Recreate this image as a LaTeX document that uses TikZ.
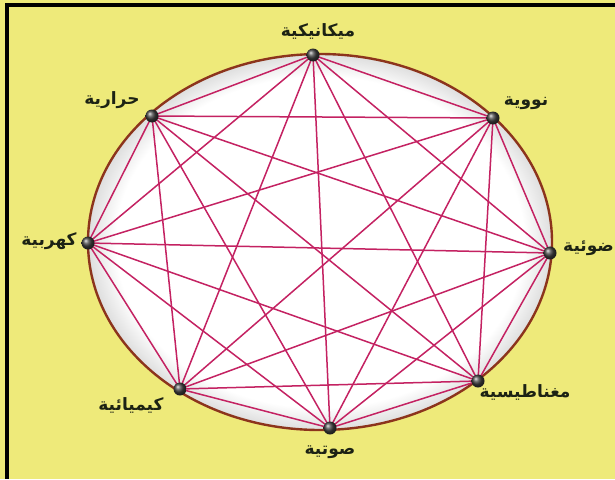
\documentclass[tikz,border=0pt]{standalone}
\usepackage{fontspec}
\newfontfamily\arabicfont[Script=Arabic]{DejaVu Sans}
\TeXXeTstate=1
\usetikzlibrary{shapes.geometric}
\definecolor{bgyellow}{RGB}{238,234,122}
\definecolor{edgecol}{RGB}{196,34,98}
\definecolor{rimcol}{RGB}{140,52,28}
\definecolor{labcol}{RGB}{28,34,20}
\pgfdeclareradialshading{innerglow}{\pgfpoint{0bp}{0bp}}{color(0bp)=(white); color(22bp)=(white); color(25bp)=(black!13); color(50bp)=(black!13)}
\pgfdeclarelayer{bgA}
\pgfdeclarelayer{bgB}
\pgfsetlayers{bgA,bgB,main}
\tikzset{
  ball/.style={circle, inner sep=0pt, minimum size=13pt, shading=ball, ball color=black!75},
  lab/.style={font=\arabicfont\bfseries\fontsize{17}{19}\selectfont, text=labcol, inner sep=0pt},
  link/.style={draw=edgecol, line width=1.5pt},
}
\newcommand{\ar}[1]{\beginR #1\endR}
\begin{document}
\begin{tikzpicture}[x=1pt,y=-1pt]
\useasboundingbox (0,0) rectangle (615,479);
\begin{pgfonlayer}{bgA}
  \fill[bgyellow] (0,0) rectangle (615,479);
  \fill[black] (5,3) rectangle (615,6.5);
  \fill[black] (5,3) rectangle (8.5,479);
  \shade[shading=innerglow] (320,242) ellipse [x radius=232, y radius=188];
  \draw[rimcol, line width=2.4pt] (320,242) ellipse [x radius=232, y radius=188];
\end{pgfonlayer}

\node[ball] (mech) at (313,55) {};
\node[ball] (nucl) at (493,118) {};
\node[ball] (light) at (550,253) {};
\node[ball] (magn) at (478,381) {};
\node[ball] (sound) at (330,428) {};
\node[ball] (chem) at (180,389) {};
\node[ball] (elec) at (88,243) {};
\node[ball] (heat) at (152,116) {};

\node[lab] (tmech) at (318,31) {\ar{ميكانيكية}};
\node[lab] (tnucl) at (526,103) {\ar{نووية}};
\node[lab, anchor=west] (tlight) at (563,248) {\ar{ضوئية}};
\node[lab] (tmagn) at (525,392) {\ar{مغناطيسية}};
\node[lab] (tsound) at (330,452) {\ar{صوتية}};
\node[lab] (tchem) at (131,405) {\ar{كيميائية}};
\node[lab] (telec) at (49,241) {\ar{كهربية}};
\node[lab] (theat) at (112,100) {\ar{حرارية}};

\begin{pgfonlayer}{bgB}
\foreach \a [count=\i] in {mech,nucl,light,magn,sound,chem,elec,heat}{
  \foreach \b [count=\j] in {mech,nucl,light,magn,sound,chem,elec,heat}{
    \ifnum\j>\i \draw[link] (\a.center) -- (\b.center); \fi
  }
}
\end{pgfonlayer}
\end{tikzpicture}
\end{document}
